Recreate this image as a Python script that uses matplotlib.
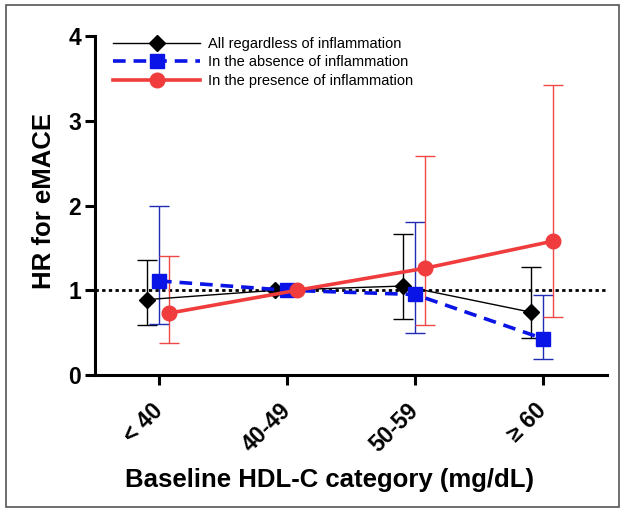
import numpy as np
import matplotlib
matplotlib.use("Agg")
import matplotlib.pyplot as plt
from matplotlib.patches import Rectangle

plt.rcParams['font.family'] = ['Liberation Sans', 'DejaVu Sans']

categories = ["< 40", "40-49", "50-59", "\u2265 60"]

all_hr = [0.89, 1.00, 1.05, 0.74]
all_lo = [0.59, np.nan, 0.66, 0.44]
all_hi = [1.36, np.nan, 1.66, 1.28]

abs_hr = [1.11, 1.00, 0.95, 0.43]
abs_lo = [0.60, np.nan, 0.49, 0.19]
abs_hi = [2.00, np.nan, 1.81, 0.94]

pres_hr = [0.73, 1.00, 1.26, 1.58]
pres_lo = [0.38, np.nan, 0.59, 0.69]
pres_hi = [1.41, np.nan, 2.58, 3.42]

series = [
    ("All regardless of inflammation", all_hr, all_lo, all_hi, -0.09,
     dict(color="black", lw=1.0, ls="-", marker="D", ms=8.5), "black"),
    ("In the absence of inflammation", abs_hr, abs_lo, abs_hi, 0.0,
     dict(color="#0a14e6", lw=2.6, ls=(0, (3.5, 2.2)), marker="s", ms=10), "#1f2db4"),
    ("In the presence of inflammation", pres_hr, pres_lo, pres_hi, 0.08,
     dict(color="#f03c3c", lw=2.6, ls="-", marker="o", ms=10.5), "#f04848"),
]

fig = plt.figure(figsize=(6.25, 5.12), dpi=100)
ax = fig.add_axes([0.152, 0.2676, 0.819, 0.662])

x = np.arange(len(categories))
ax.axhline(1.0, color="black", ls=(0, (1.2, 1.2)), lw=2.0, zorder=1)

for label, hr, lo, hi, off, st, ecol in series:
    xs = x + off
    hr = np.array(hr); lo = np.array(lo); hi = np.array(hi)
    m = ~np.isnan(lo)
    ax.errorbar(xs[m], hr[m], yerr=[hr[m] - lo[m], hi[m] - hr[m]], fmt="none",
                ecolor=ecol, elinewidth=1.0, capsize=7, capthick=1.0, zorder=2)
    ax.plot(xs, hr, label=label, zorder=3, mec=st["color"], mfc=st["color"], **st)

ax.set_xlim(-0.5, 3.5)
ax.set_ylim(0, 4)
ax.set_yticks([0, 1, 2, 3, 4])
ax.set_xticks(x)
ax.set_xticklabels(categories, rotation=45, ha="right", va="center", rotation_mode="anchor")
for sp in ["top", "right"]:
    ax.spines[sp].set_visible(False)
for sp in ["left", "bottom"]:
    ax.spines[sp].set_linewidth(2.2)
ax.tick_params(axis="both", width=2.2, length=7, labelsize=16.5, pad=3)
ax.tick_params(axis="x", pad=16)
for t in ax.get_xticklabels() + ax.get_yticklabels():
    t.set_fontweight("bold")
ax.set_xlabel("Baseline HDL-C category (mg/dL)", fontsize=18.5, fontweight="bold")
ax.xaxis.set_label_coords(0.459, -0.275)
ax.set_ylabel("HR for eMACE", fontsize=18.5, fontweight="bold")
ax.yaxis.set_label_coords(-0.076, 0.513)

leg = ax.legend(loc="upper left", bbox_to_anchor=(0.035, 0.998), frameon=False,
                fontsize=10.5, handlelength=6.0, handletextpad=0.5, labelspacing=0.32,
                borderaxespad=0.0, borderpad=0.0)

fig.add_artist(Rectangle((6/625, 5/512), 613/625, 502/512, transform=fig.transFigure,
                         fill=False, edgecolor="#555555", lw=1.2))

fig.savefig("out.png", dpi=100)
